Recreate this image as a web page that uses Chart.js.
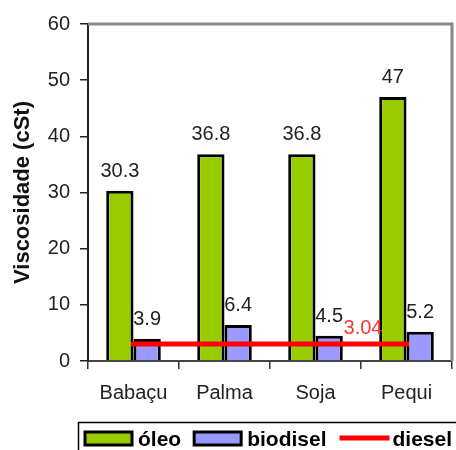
<!DOCTYPE html>
<html>
<head>
<meta charset="utf-8">
<script src="https://cdn.jsdelivr.net/npm/chart.js@4"></script>
<style>
  html, body { margin: 0; padding: 0; background: #fff; }
  #wrap { width: 456px; height: 450px; }
</style>
</head>
<body>
<div id="wrap"><canvas id="viscChart" width="456" height="450"></canvas></div>
<script>
// Viscosidade: óleo vs biodisel vs diesel
const categories = ['Babaçu', 'Palma', 'Soja', 'Pequi'];
const oleoValues = [30.3, 36.8, 36.8, 47];
const biodiselValues = [3.9, 6.4, 4.5, 5.2];
const dieselValue = 3.04;
const yTicks = [0, 10, 20, 30, 40, 50, 60];

const FONT = '"Liberation Sans", Arial, sans-serif';

// value labels above bars + diesel label
const valueLabels = {
    id: 'valueLabels',
    afterDatasetsDraw(chart) {
        const ctx = chart.ctx;
        ctx.save();
        ctx.font = '20px ' + FONT;
        ctx.textAlign = 'center';
        ctx.textBaseline = 'alphabetic';
        ctx.fillStyle = '#222';
        [0, 1].forEach(di => {
            const meta = chart.getDatasetMeta(di);
            const vals = chart.data.datasets[di].data;
            meta.data.forEach((bar, i) => {
                ctx.fillText(String(vals[i]), bar.x, bar.y - 14);
            });
        });
        const line = chart.getDatasetMeta(2).data;
        ctx.fillStyle = '#ff3333';
        ctx.fillText(dieselValue.toFixed(2), (line[2].x + line[3].x) / 2 + 2, line[3].y - 10);
        ctx.restore();
    }
};

// gray frame on top/right + boxed legend at the bottom
const frameAndLegend = {
    id: 'frameAndLegend',
    afterDraw(chart) {
        const ctx = chart.ctx;
        const a = chart.chartArea;
        ctx.save();
        ctx.strokeStyle = '#888';
        ctx.lineWidth = 3;
        ctx.beginPath();
        ctx.moveTo(a.left, a.top);
        ctx.lineTo(a.right, a.top);
        ctx.lineTo(a.right, a.bottom);
        ctx.stroke();

        // legend box
        ctx.strokeStyle = '#000';
        ctx.lineWidth = 1.5;
        ctx.strokeRect(78.5, 422.5, 400, 40);

        ctx.font = 'bold 21px ' + FONT;
        ctx.textBaseline = 'middle';
        const cy = 438;
        let x = 85;
        const items = [
            { label: 'óleo', fill: '#99cc00', type: 'box' },
            { label: 'biodisel', fill: '#9999ff', type: 'box' },
            { label: 'diesel', fill: '#ff0000', type: 'line' }
        ];
        items.forEach(it => {
            if (it.type === 'box') {
                ctx.fillStyle = it.fill;
                ctx.fillRect(x, cy - 6, 47, 13);
                ctx.strokeStyle = '#000';
                ctx.lineWidth = 3;
                ctx.strokeRect(x, cy - 6, 47, 13);
            } else {
                ctx.strokeStyle = it.fill;
                ctx.lineWidth = 5;
                ctx.beginPath();
                ctx.moveTo(x, cy);
                ctx.lineTo(x + 50, cy);
                ctx.stroke();
            }
            const tx = x + 53;
            ctx.fillStyle = '#000';
            ctx.fillText(it.label, tx, cy + 2);
            x = tx + ctx.measureText(it.label).width + 13;
        });
        ctx.restore();
    }
};

new Chart(document.getElementById('viscChart'), {
    type: 'bar',
    data: {
        labels: categories,
        datasets: [
            {
                label: 'óleo',
                data: oleoValues,
                backgroundColor: '#99cc00',
                borderColor: '#000',
                borderWidth: 3,
                categoryPercentage: 0.6,
                barPercentage: 1.0,
                order: 2
            },
            {
                label: 'biodisel',
                data: biodiselValues,
                backgroundColor: '#9999ff',
                borderColor: '#000',
                borderWidth: 3,
                categoryPercentage: 0.6,
                barPercentage: 1.0,
                order: 2
            },
            {
                type: 'line',
                label: 'diesel',
                data: categories.map(() => dieselValue),
                borderColor: '#ff0000',
                borderWidth: 5,
                borderCapStyle: 'square',
                pointRadius: 0,
                fill: false,
                order: 1
            }
        ]
    },
    options: {
        responsive: false,
        animation: false,
        layout: {
            padding: { top: 24, right: 4, left: 0, bottom: 0 }
        },
        plugins: {
            legend: { display: false },
            tooltip: { enabled: false }
        },
        scales: {
            x: {
                grid: {
                    offset: true,
                    drawOnChartArea: false,
                    tickLength: 8,
                    color: '#333',
                    lineWidth: 1.5
                },
                border: { color: '#444', width: 2 },
                ticks: {
                    color: '#222',
                    font: { family: FONT, size: 20 },
                    padding: 12
                },
                afterFit: function(scale) { scale.height = 89; }
            },
            y: {
                min: 0,
                max: 60,
                afterBuildTicks: function(scale) {
                    scale.ticks = yTicks.map(v => ({ value: v }));
                },
                grid: {
                    drawOnChartArea: false,
                    tickLength: 8,
                    color: '#222',
                    lineWidth: 1.5
                },
                border: { color: '#222', width: 2 },
                ticks: {
                    color: '#222',
                    font: { family: FONT, size: 20 },
                    padding: 10
                },
                title: {
                    display: true,
                    text: 'Viscosidade (cSt)',
                    color: '#111',
                    font: { family: FONT, size: 22, weight: 'bold' },
                    padding: { top: 10, bottom: 0 }
                },
                afterFit: function(scale) { scale.width = 88; }
            }
        }
    },
    plugins: [valueLabels, frameAndLegend]
});
</script>
</body>
</html>
